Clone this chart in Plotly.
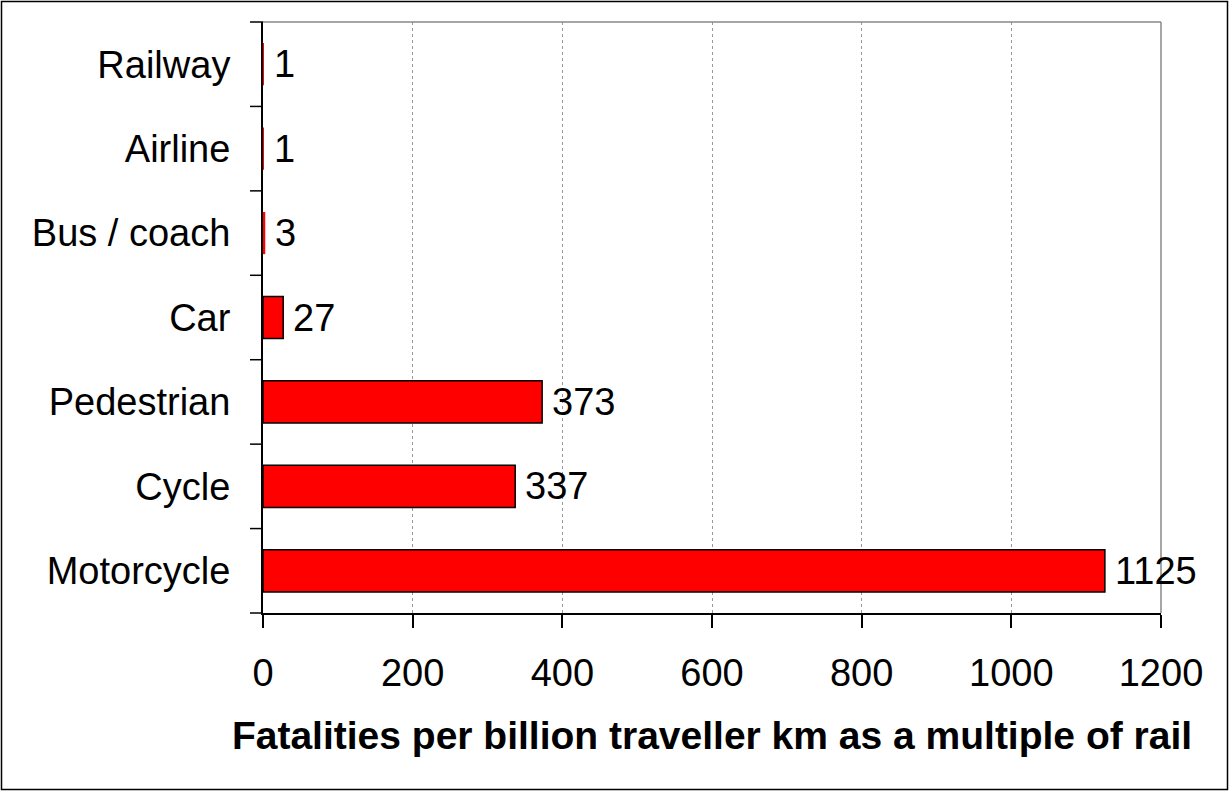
import plotly.graph_objects as go

categories = ["Railway", "Airline", "Bus / coach", "Car", "Pedestrian", "Cycle", "Motorcycle"]
values = [1, 1, 3, 27, 373, 337, 1125]
x_ticks = [0, 200, 400, 600, 800, 1000, 1200]
x_title = "Fatalities per billion traveller km as a multiple of rail"

W, H = 1229, 791
ML, MR, MT, MB = 263, 68, 22, 178
pw, ph = W - ML - MR, H - MT - MB

FAM = "Liberation Sans, Arial"
font = dict(family=FAM, size=38, color="black")

fig = go.Figure()
fig.add_trace(go.Bar(
    y=categories, x=values, orientation="h", width=0.5,
    marker=dict(color="#FF0000",
                line=dict(color="black", width=[1.5 if v >= 10 else 0 for v in values])),
    showlegend=False, hoverinfo="skip",
))
for c, v in zip(categories, values):
    fig.add_annotation(x=v, y=c, text=str(v), showarrow=False, xanchor="left",
                       xshift=8, font=font)

fig.update_layout(
    width=W, height=H,
    margin=dict(l=ML, r=MR, t=MT, b=MB),
    paper_bgcolor="white", plot_bgcolor="white",
    font=font,
    bargap=0.5,
    xaxis=dict(range=[0, 1200], tickvals=x_ticks, ticks="outside", ticklen=13,
               tickwidth=1.5, tickcolor="black", showline=True, linecolor="black",
               linewidth=2, showgrid=True, gridcolor="#999999", griddash="dot",
               gridwidth=1, zeroline=False, tickfont=font, ticklabelstandoff=12,
               title=dict(text="<b>" + x_title + "</b>",
                          font=dict(family=FAM, size=39, color="black"), standoff=29)),
    yaxis=dict(categoryorder="array", categoryarray=categories[::-1],
               range=[-0.5, len(categories) - 0.5],
               ticks="", showline=True, linecolor="black", linewidth=2,
               showgrid=False, zeroline=False, tickfont=font, ticklabelstandoff=23),
)

shapes = []
for i in range(len(categories) + 1):
    yb = i / len(categories)
    shapes.append(dict(type="line", xref="paper", yref="paper",
                       x0=-13 / pw, x1=0, y0=yb, y1=yb,
                       line=dict(color="black", width=1.5)))
shapes.append(dict(type="line", xref="paper", yref="paper", x0=0, x1=1, y0=1, y1=1,
                   line=dict(color="#888888", width=1.5)))
shapes.append(dict(type="line", xref="paper", yref="paper", x0=1, x1=1, y0=0, y1=1,
                   line=dict(color="#888888", width=1.5)))
shapes.append(dict(type="rect", xref="paper", yref="paper",
                   x0=(-ML + 1.5) / pw, x1=(pw + MR - 1.5) / pw,
                   y0=(-MB + 1.5) / ph, y1=(ph + MT - 1.5) / ph,
                   line=dict(color="black", width=1.5), fillcolor="rgba(0,0,0,0)", layer="below"))
fig.update_layout(shapes=shapes)

fig.write_html("out.html")
